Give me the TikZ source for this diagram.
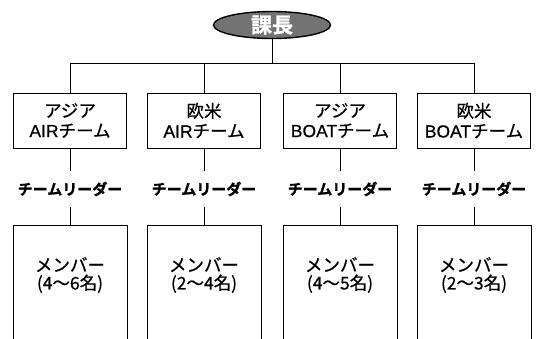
\documentclass[tikz,border=0pt]{standalone}
\usepackage{fontspec}
\usetikzlibrary{shapes.geometric}
\setmainfont{Liberation Sans}
\newfontfamily\jp{Noto Sans CJK JP}[FakeBold=0.6]
\newfontfamily\jpb{Noto Sans CJK JP Bold}[FakeBold=1.2]
\newfontfamily\lat{Liberation Sans}[FakeBold=0.6]
\begin{document}
\begin{tikzpicture}[x=1pt,y=-1pt,
  line width=0.9pt,
  teambox/.style={draw, minimum width=113pt, minimum height=55pt, inner sep=0pt, align=center,
    font=\jp\fontsize{17.5}{20}\selectfont},
  leader/.style={inner xsep=0pt, inner ysep=10pt, font=\jpb\fontsize{15}{15}\selectfont},
  memberbox/.style={minimum width=113pt, minimum height=98pt, inner sep=0pt, align=center,
    font=\jp\fontsize{17.5}{18}\selectfont},
  boss/.style={ellipse, draw, line width=1.4pt, fill=black!55, minimum width=117pt, minimum height=27pt, inner sep=0pt,
    text=white, font=\jpb\fontsize{21}{21}\selectfont}]
\clip (0,0) rectangle (540,338);
\fill[white] (0,0) rectangle (540,338);
\node[boss] (boss) at (272,25) {課長};
\coordinate (bar) at (0,63);
\node[teambox] (t1) at (70,120.5) {アジア\\{\lat AIR}チーム};
\node[teambox] (t2) at (204,120.5) {欧米\\{\lat AIR}チーム};
\node[teambox] (t3) at (340,120.5) {アジア\\{\lat BOAT}チーム};
\node[teambox] (t4) at (474,120.5) {欧米\\{\lat BOAT}チーム};
\foreach \i in {1,...,4} {
  \node[leader] (l\i) at (t\i.south |- 0,189) {チームリーダー};
}
\node[memberbox] (m1) at (70,275) {メンバー\\(4〜6名)};
\node[memberbox] (m2) at (204,275) {メンバー\\(2〜4名)};
\node[memberbox] (m3) at (340,275) {メンバー\\(4〜5名)};
\node[memberbox] (m4) at (474,275) {メンバー\\(2〜3名)};
\draw (boss.south) -- (boss.south |- bar);
\draw (t1.north) -- (t1.north |- bar) -- (t4.north |- bar) -- (t4.north);
\draw (t2.north) -- (t2.north |- bar);
\draw (t3.north) -- (t3.north |- bar);
\foreach \i in {1,...,4} {
  \draw (t\i.south) -- (l\i.north);
  \draw (l\i.south) -- (m\i.north);
  \draw ([yshift=-30pt]m\i.south west) -- (m\i.north west) -- (m\i.north east) -- ([yshift=-30pt]m\i.south east);
}
\end{tikzpicture}
\end{document}
